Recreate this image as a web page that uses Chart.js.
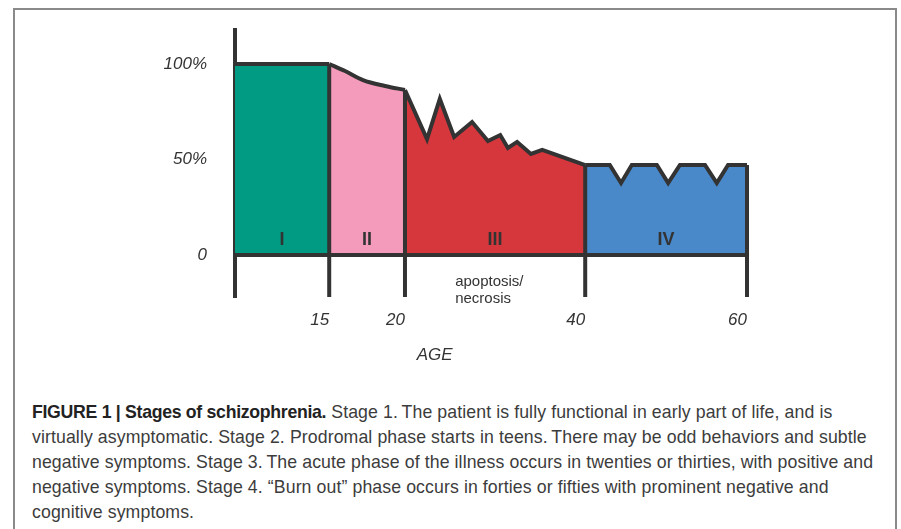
<!DOCTYPE html>
<html>
<head>
<meta charset="utf-8">
<script src="https://cdn.jsdelivr.net/npm/chart.js@4"></script>
<style>
  html, body { margin: 0; padding: 0; background: #fff; }
  body { width: 901px; height: 529px; overflow: hidden; position: relative; }
  #frame {
    position: absolute; left: 13px; top: 8px; width: 884px; height: 560px;
    border: 2px solid #8a8a8a; box-sizing: border-box;
  }
  #chartBox { position: absolute; left: 0; top: 0; width: 901px; height: 380px; }
  #caption {
    position: absolute; left: 32px; top: 400px;
    font-family: "Liberation Sans", Arial, sans-serif;
    font-size: 17.7px; line-height: 25px; color: #3c3c3c;
    letter-spacing: 0.1px;
    white-space: nowrap;
  }
  #caption b { color: #222; letter-spacing: -0.3px; }
</style>
</head>
<body>
<div id="frame"></div>
<div id="chartBox"><canvas id="chart"></canvas></div>
<div id="caption">
  <b>FIGURE 1 | Stages of schizophrenia.</b> Stage 1.&#8201;The patient is fully functional in early part of life, and is<br>
  virtually asymptomatic. Stage 2. Prodromal phase starts in teens.&#8201;There may be odd behaviors and subtle<br>
  negative symptoms. Stage 3.&#8201;The acute phase of the illness occurs in twenties or thirties, with positive and<br>
  negative symptoms. Stage 4. &#8220;Burn out&#8221; phase occurs in forties or fifties with prominent negative and<br>
  cognitive symptoms.
</div>
<script>
// schematic axis: the age axis is not to scale, so positions run 0..100 along it
const ageLabels = ['15', '20', '40', '60'];
const agePos = [18.4, 33.2, 68.4, 100];

const yTickValues = [0, 50, 100];
const yTickLabels = ['0', '50%', '100%'];

const stageNames = ['I', 'II', 'III', 'IV'];
const stageColors = ['#009b82', '#f49bbb', '#d5373d', '#4a89c9'];

// functioning level (%) along each stage
const stage1X = [0, 18.4];
const stage1Y = [100, 100];
const stage2X = [18.4, 21.5, 25.0, 29.3, 33.2];
const stage2Y = [100, 96.3, 91.6, 88.5, 86.4];
const stage3X = [33.2, 37.5, 40.0, 42.8, 46.3, 49.4, 51.8, 53.3, 55.1, 57.8, 60.0, 68.4];
const stage3Y = [86.4, 60.7, 81.7, 61.8, 69.6, 59.7, 62.8, 56.0, 59.2, 52.9, 55.0, 47.1];
const stage4X = [68.4, 73.2, 75.4, 77.5, 82.4, 84.6, 86.9, 91.8, 94.1, 96.3, 100];
const stage4Y = [47.1, 47.1, 37.7, 47.1, 47.1, 37.7, 47.1, 47.1, 37.7, 47.1, 47.1];

const Y_MIN = -22, Y_MAX = 117.8;
const INK = '#333333';
const LINE_W = 4;

const stagesX = [stage1X, stage2X, stage3X, stage4X];
const stagesY = [stage1Y, stage2Y, stage3Y, stage4Y];
const toPoints = (xs, ys) => xs.map((x, i) => ({ x: x, y: ys[i] }));

const datasets = [];

// dark outline pieces: baseline and the stage dividers / age tick marks
datasets.push({
    data: [{ x: 0, y: 0 }, { x: 100, y: 0 }],
    borderColor: INK, borderWidth: LINE_W, pointRadius: 0, fill: false, order: 0, clip: false
});
agePos.forEach((p, i) => {
    const ys = stagesY[i];
    datasets.push({
        data: [{ x: p, y: Y_MIN }, { x: p, y: ys[ys.length - 1] }],
        borderColor: INK, borderWidth: LINE_W, pointRadius: 0, fill: false, order: 0, clip: false,
        borderCapStyle: 'butt'
    });
});

// filled stages
stagesX.forEach((xs, i) => {
    datasets.push({
        data: toPoints(xs, stagesY[i]),
        borderColor: INK,
        borderWidth: LINE_W,
        backgroundColor: stageColors[i],
        fill: 'origin',
        pointRadius: 0,
        tension: i === 1 ? 0.35 : 0,
        borderJoinStyle: 'miter',
        order: 1,
        clip: false
    });
});

const labelsPlugin = {
    id: 'stageLabels',
    afterDatasetsDraw(chart) {
        const ctx = chart.ctx;
        const xs = chart.scales.x, ys = chart.scales.y;
        const bounds = [0].concat(agePos);
        ctx.save();
        ctx.fillStyle = INK;
        ctx.textAlign = 'center';
        ctx.textBaseline = 'middle';
        ctx.font = 'bold 18px "Liberation Sans", Arial, sans-serif';
        stageNames.forEach((name, i) => {
            const mid = (bounds[i] + bounds[i + 1]) / 2;
            ctx.fillText(name, xs.getPixelForValue(mid), ys.getPixelForValue(8));
        });
        ctx.font = '15px "Liberation Sans", Arial, sans-serif';
        ctx.textAlign = 'left';
        const ax = xs.getPixelForValue(43);
        const ay = ys.getPixelForValue(-14);
        ctx.fillText('apoptosis/', ax, ay);
        ctx.fillText('necrosis', ax, ay + 17);
        ctx.font = 'italic 17px "Liberation Sans", Arial, sans-serif';
        ctx.textAlign = 'center';
        ctx.fillText('AGE', xs.getPixelForValue(39), chart.chartArea.bottom + 58);
        ctx.restore();
    }
};

new Chart(document.getElementById('chart'), {
    type: 'line',
    data: { datasets: datasets },
    options: {
        responsive: true,
        maintainAspectRatio: false,
        animation: false,
        layout: { padding: { left: 0, top: 30, right: 154, bottom: 0 } },
        plugins: { legend: { display: false }, tooltip: { enabled: false } },
        scales: {
            x: {
                type: 'linear',
                min: 0, max: 100,
                grid: { display: false, drawTicks: false },
                border: { display: false },
                afterFit: (s) => { s.height = 83; },
                afterBuildTicks: (s) => { s.ticks = agePos.map(v => ({ value: v })); },
                ticks: {
                    autoSkip: false,
                    maxRotation: 0,
                    align: 'end',
                    padding: 13,
                    color: INK,
                    font: { family: '"Liberation Sans", Arial, sans-serif', size: 17, style: 'italic' },
                    callback: (v) => ageLabels[agePos.indexOf(v)]
                }
            },
            y: {
                min: Y_MIN, max: Y_MAX,
                grid: { display: false, drawTicks: false },
                border: { display: true, color: INK, width: LINE_W },
                afterFit: (s) => { s.width = 235; s.paddingTop = 0; s.paddingBottom = 0; },
                afterBuildTicks: (s) => { s.ticks = yTickValues.map(v => ({ value: v })); },
                ticks: {
                    padding: 28,
                    color: INK,
                    font: { family: '"Liberation Sans", Arial, sans-serif', size: 17, style: 'italic' },
                    callback: (v) => yTickLabels[yTickValues.indexOf(v)]
                }
            }
        }
    },
    plugins: [labelsPlugin]
});
</script>
</body>
</html>
